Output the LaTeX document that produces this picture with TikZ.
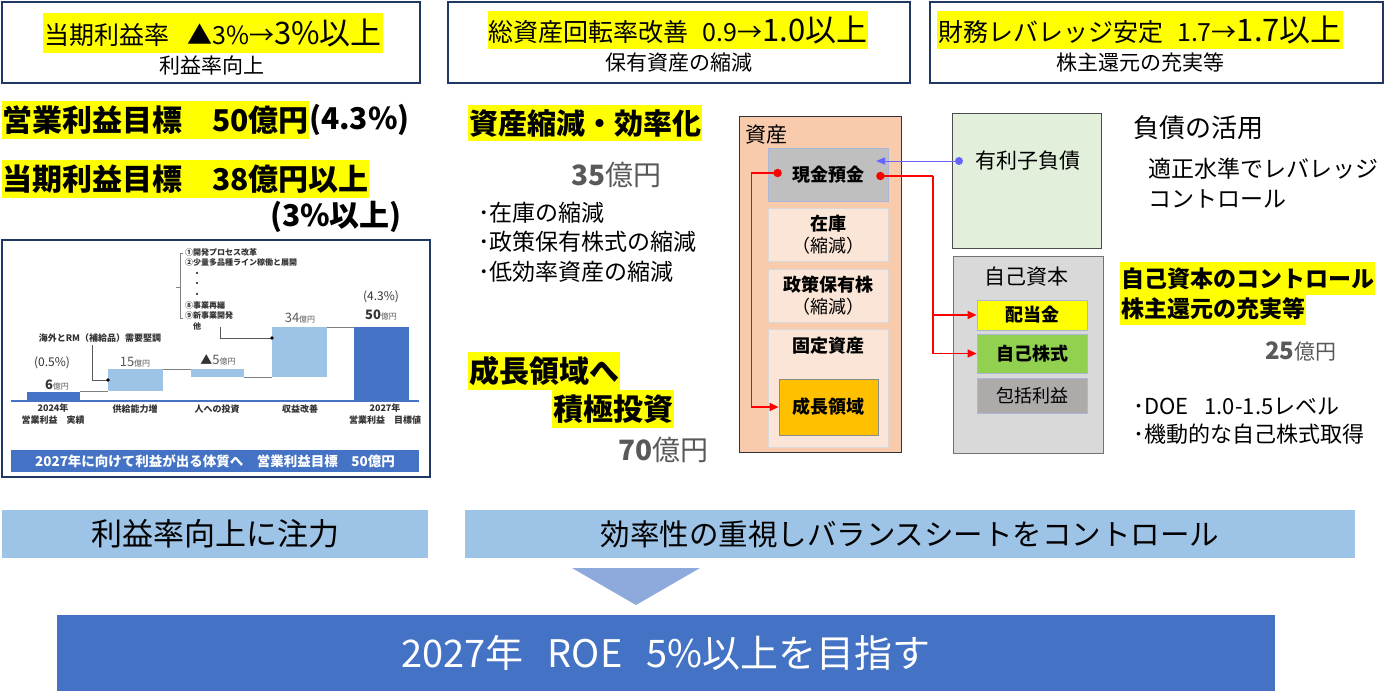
\documentclass[tikz,border=0pt]{standalone}
\usepackage{fontspec}
\setmainfont{Noto Sans CJK JP}
\usepackage{xcolor}
\usetikzlibrary{calc}
\usetikzlibrary{arrows.meta}

\definecolor{navy}{HTML}{203864}
\definecolor{hlyellow}{HTML}{FFFF00}
\definecolor{barblue}{HTML}{4472C4}
\definecolor{barlight}{HTML}{9DC3E6}
\definecolor{peach}{HTML}{F8CBAD}
\definecolor{peachlight}{HTML}{FBE5D6}
\definecolor{cashgray}{HTML}{BFBFBF}
\definecolor{growthgold}{HTML}{FFC000}
\definecolor{debtgreen}{HTML}{E2EFDA}
\definecolor{equitygray}{HTML}{D9D9D9}
\definecolor{treasgreen}{HTML}{92D050}
\definecolor{compgray}{HTML}{AEAAAA}
\definecolor{numgray}{HTML}{595959}
\definecolor{arrowblue}{HTML}{6666FF}
\definecolor{triblue}{HTML}{8EA9DB}
\definecolor{celledge}{HTML}{A9B8D8}

\newcommand{\fs}[2]{\fontsize{#1}{#2}\selectfont}

\tikzset{
  topbox/.style={draw=navy, line width=1.8pt, fill=white, minimum height=81pt},
  hl/.style={fill=hlyellow, inner xsep=1pt, inner ysep=4.5pt},
  txt/.style={inner sep=0pt},
  cell/.style={draw=celledge, line width=0.8pt, minimum width=120pt, align=center},
  redline/.style={red, line width=1.4pt},
  redarrow/.style={redline, -{Triangle[length=9pt,width=8pt]}},
  chartlbl/.style={inner sep=0pt, align=center, font=\fs{9}{12}\bfseries, text=black!80},
}

\begin{document}
\begin{tikzpicture}[x=1pt,y=-1pt]
\useasboundingbox (0,0) rectangle (1400,691);

% Goal boxes
\node[topbox, minimum width=418pt] (goal1) at (211,42.5) {};
\node[hl, inner ysep=6pt] (goal1hl) at (213,33) {\fs{25}{28}当期利益率\hspace{18pt}▲3\%→\fs{31}{32}3\%以上};
\node[txt] (goal1sub) at (212,66) {\fs{21}{24}利益率向上};

\node[topbox, minimum width=462pt] (goal2) at (679,42.5) {};
\node[hl, inner ysep=5pt] (goal2hl) at (678,30) {\fs{25}{28}総資産回転率改善\hspace{14pt}0.9→\fs{31}{32}1.0以上};
\node[txt] (goal2sub) at (679,63) {\fs{21}{24}保有資産の縮減};

\node[topbox, minimum width=453pt] (goal3) at (1156.5,42.5) {};
\node[hl, inner ysep=5pt] (goal3hl) at (1140,30) {\fs{25}{28}財務レバレッジ安定\hspace{14pt}1.7→\fs{31}{32}1.7以上};
\node[txt] (goal3sub) at (1140,62) {\fs{21}{24}株主還元の充実等};

% Profit targets
\node[hl, anchor=west, inner xsep=0pt] (optarget) at (2,120) {\fs{30}{32}\bfseries 営業利益目標　50億円};
\node[txt, anchor=west] (oppct) at (optarget.east) {\fs{30}{32}\bfseries (4.3\%)};
\node[hl, anchor=west, inner xsep=0pt] (nptarget) at (2,179) {\fs{30}{32}\bfseries 当期利益目標　38億円以上};
\node[txt] (nppct) at (336,217) {\fs{30}{32}\bfseries (3\%以上)};

% Waterfall chart
\draw[navy, line width=1.2pt, fill=white] (2,240) rectangle (430,477);
\draw[barblue, line width=1.2pt] (11,401) -- (419,401);
\fill[barblue] (27,392) rectangle (80,401);
\fill[barlight] (108,369) rectangle (163,391);
\fill[barlight] (191,369) rectangle (244,377);
\fill[barlight] (272,327) rectangle (327,377);
\fill[barblue] (354,327) rectangle (409,401);
\draw[gray, line width=0.8pt] (80,391) -- (108,391) (163,369) -- (191,369)
  (244,377) -- (272,377) (327,327) -- (354,327);

\node[chartlbl, font=\fs{12}{14}] (pct24) at (52,363) {(0.5\%)};
\node[chartlbl] (val24) at (57,385) {\fs{13}{14}6\textcolor{numgray}{\fs{8}{9}\mdseries 億円}};
\node[chartlbl] (valsupply) at (135,362) {\textcolor{numgray}{\fs{13}{14}\mdseries 15\fs{8}{9}億円}};
\node[chartlbl] (valpeople) at (218,360) {\fs{12}{14}▲\textcolor{numgray}{\fs{13}{14}\mdseries 5\fs{8}{9}億円}};
\node[chartlbl] (valprofit) at (300,318) {\textcolor{numgray}{\fs{13}{14}\mdseries 34\fs{8}{9}億円}};
\node[chartlbl] (val27) at (381,315) {\fs{13}{14}50\textcolor{numgray}{\fs{8}{9}\mdseries 億円}};
\node[chartlbl, font=\fs{12}{14}] (pct27) at (381,297) {(4.3\%)};

\node[chartlbl] (cat24) at (53,414) {2024年\\営業利益　実績};
\node[chartlbl] (catsupply) at (135,409) {供給能力増};
\node[chartlbl] (catpeople) at (217,409) {人への投資};
\node[chartlbl] (catprofit) at (300,409) {収益改善};
\node[chartlbl] (cat27) at (385,414) {2027年\\営業利益　目標値};

\node[chartlbl] (overseas) at (100,338) {海外とRM（補給品）需要堅調};
\draw[gray!70!black, line width=0.8pt] (92,345) -- (92,380) -- (108,380);
\fill (108,380) circle (1.8);

\node[chartlbl, anchor=north west, align=left, font=\fs{8}{10.6}\bfseries] (measures) at (185,248)
  {①開発プロセス改革\\②少量多品種ライン稼働と展開\\　・\\　・\\　・\\⑧事業再編\\⑨新事業開発\\　他};
\draw[gray, line width=0.7pt] (183,253) -- (180,253) -- (180,318) -- (183,318) (180,287) -- (176,287);
\draw[gray!70!black, line width=0.8pt] (220,327) -- (220,338) -- (272,338);
\fill (272,338) circle (1.8);

\node[fill=barblue, minimum width=408pt, minimum height=22pt, inner sep=0pt, text=white,
  font=\fs{13.5}{15}\bfseries] (chartbanner) at (215,461) {2027年に向けて利益が出る体質へ　営業利益目標　50億円};

% Asset efficiency
\node[hl, anchor=west] (assetcut) at (468,123) {\fs{29}{32}\bfseries 資産縮減・効率化};
\node[txt, anchor=west, text=numgray] (assetamt) at (571,175) {\fs{28}{30}\textbf{35}億円};
\node[txt, anchor=west, align=left, font=\fs{23}{29.5}] (assetlist) at (478,242) {･在庫の縮減\\･政策保有株式の縮減\\･低効率資産の縮減};

\node[hl, anchor=west] (growthtxt1) at (468,371) {\fs{30}{32}\bfseries 成長領域へ};
\node[hl, anchor=west] (growthtxt2) at (552,409) {\fs{30}{32}\bfseries 積極投資};
\node[txt, anchor=west, text=numgray] (growthamt) at (618,450) {\fs{28}{30}\textbf{70}億円};

% Balance sheet
\node[draw=black!80, line width=0.8pt, fill=peach, minimum width=162pt, minimum height=336pt] (assets) at (820,284) {};
\node[txt, anchor=west] (assetslbl) at (745,135) {\fs{21}{24}資産};
\node[cell, fill=cashgray, minimum height=53pt] (cash) at (828,174.5) {\fs{18}{20}\bfseries 現金預金};
\node[cell, draw=black!15, fill=peachlight, minimum height=53pt, font=\fs{18}{22}] (stock) at (828,234.5)
  {\textbf{在庫}\\（縮減）};
\node[cell, draw=black!15, fill=peachlight, minimum height=53pt, font=\fs{18}{22}] (policy) at (828,295.5)
  {\textbf{政策保有株}\\（縮減）};
\node[cell, draw=black!15, fill=peachlight, minimum height=118pt] (fixed) at (828,388) {};
\node[txt] (fixedlbl) at (828,346) {\fs{18}{20}\bfseries 固定資産};
\node[draw=black!45, line width=0.8pt, fill=growthgold, minimum width=99pt, minimum height=56pt] (growth) at (828.5,407)
  {\fs{18}{20}\bfseries 成長領域};

\node[draw=black!70, line width=1pt, fill=debtgreen, minimum width=149pt, minimum height=135pt] (debt) at (1026.5,180.5) {};
\node[txt] (debtlbl) at (1028,161) {\fs{21}{24}有利子負債};

\node[draw=black!55, line width=1pt, fill=equitygray, minimum width=150pt, minimum height=197pt] (equity) at (1028,354.5) {};
\node[txt] (equitylbl) at (1026,277) {\fs{21}{24}自己資本};
\node[cell, fill=hlyellow, minimum width=110pt, minimum height=30pt] (div) at (1032,315) {\fs{18}{20}\bfseries 配当金};
\node[cell, fill=treasgreen, minimum width=110pt, minimum height=39pt] (treasury) at (1032,353.5) {\fs{18}{20}\bfseries 自己株式};
\node[cell, fill=compgray, minimum width=110pt, minimum height=35pt] (comp) at (1032,395.5) {\fs{18}{20}包括利益};

% Cash flows
\coordinate (debtdot) at (959,161);
\coordinate (cashin) at (876,161);
\draw[arrowblue, line width=1pt, -{Triangle[length=9pt,width=7pt]}] (debtdot) -- (cashin);
\fill[arrowblue] (debtdot) circle (4);

\coordinate (cashout) at ($(cash.west)+(10,-1.5)$);
\draw[redarrow] (cashout) -- ++(-26,0) |- (growth.west);
\fill[red] (cashout) circle (4.2);

\coordinate (cashret) at ($(cash.east)+(-8,1.5)$);
\coordinate (split) at (933,176);
\draw[redline] (cashret) -- (split);
\draw[redarrow] (split) |- (div.west);
\draw[redarrow] (split) |- (treasury.west);
\fill[red] (cashret) circle (4.2);

% Debt and equity policy
\node[txt, anchor=west] (debtuse) at (1133,128) {\fs{26}{28}負債の活用};
\node[txt, anchor=west, align=left, font=\fs{23}{30}] (levctl) at (1148,183) {適正水準でレバレッジ\\コントロール};
\node[hl, anchor=west, minimum height=33pt] (eqctl1) at (1120,278.5) {\fs{23}{26}\bfseries 自己資本のコントロール};
\node[hl, anchor=west, minimum height=28pt] (eqctl2) at (1120,309) {\fs{23}{26}\bfseries 株主還元の充実等};
\node[txt, anchor=west, text=numgray] (eqamt) at (1265,351) {\fs{24}{26}\textbf{25}\fs{21}{24}億円};
\node[txt, anchor=west, align=left, font=\fs{22}{28}] (eqlist) at (1133,421) {･DOE\hspace{16pt}1.0-1.5レベル\\･機動的な自己株式取得};

% Conclusion
\node[fill=barlight, minimum width=426pt, minimum height=48pt] (focus) at (215,534) {\fs{31}{32}利益率向上に注力};
\node[fill=barlight, minimum width=890pt, minimum height=48pt] (bscontrol) at (910,534)
  {\fs{29.5}{32}効率性の重視しバランスシートをコントロール};
\fill[triblue] (572,568) -- (700,568) -- (636,605) -- cycle;
\node[fill=barblue, minimum width=1218pt, minimum height=76pt, text=white] (roe) at (666,653)
  {\fs{38}{40}2027年\hspace{24pt}ROE\hspace{24pt}5\%以上を目指す};

\end{tikzpicture}
\end{document}
